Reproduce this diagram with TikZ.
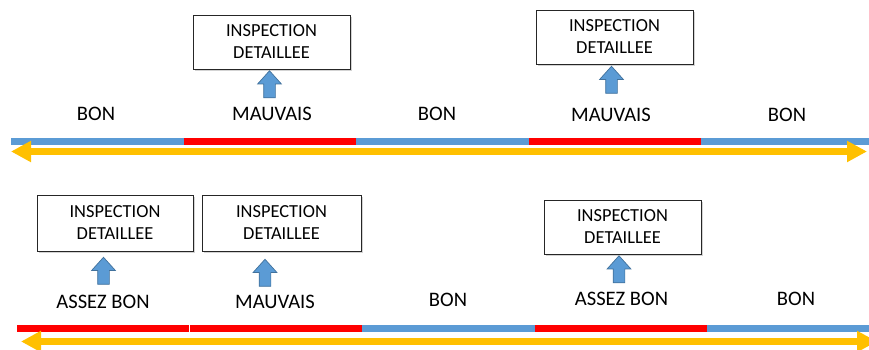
\documentclass[tikz,border=0pt]{standalone}
\usepackage{fontspec}
\setmainfont{Carlito}
\usetikzlibrary{arrows.meta,shapes.arrows,shadows}
\definecolor{barblue}{HTML}{5B9BD5}
\definecolor{barred}{HTML}{FF0000}
\definecolor{spanor}{HTML}{FFC000}
\definecolor{arrline}{HTML}{41719C}
\tikzset{
  inspbox/.style={draw=black!85, line width=0.8pt, fill=white, inner sep=0pt,
                  minimum width=157pt, minimum height=54pt, align=center,
                  font=\fontsize{18.4}{22}\selectfont,
                  drop shadow={shadow xshift=1.5pt, shadow yshift=-1.5pt, opacity=0.35}},
  statelbl/.style={inner sep=0pt, font=\fontsize{20.6}{24}\selectfont},
  uparr/.style={single arrow, shape border rotate=90, draw=arrline, line width=0.7pt,
                fill=barblue, inner sep=5.5pt, minimum width=23pt, minimum height=27pt,
                single arrow head extend=6pt, single arrow tip angle=84},
  bluebar/.style={line width=7pt, color=barblue},
  redbar/.style={line width=7pt, color=barred},
  spanarr/.style={{Triangle[length=20pt,width=20pt]}-{Triangle[length=20pt,width=20pt]},
                  line width=6.5pt, color=spanor}}

\begin{document}
\begin{tikzpicture}[x=1pt, y=-1pt]
    \path[use as bounding box, clip] (0,0) rectangle (869,349);
    % the first timeline
    \foreach \xa/\xb/\col in {11/184/bluebar, 184/356/redbar, 356/529/bluebar,
                              529/701/redbar, 701/869/bluebar}
      \draw[\col] (\xa,141) -- (\xb,141);
    \coordinate (sa) at (11,151.5);
    \coordinate (sb) at (867,151.5);
    \draw[spanarr] (sa) -- (sb);
    \node[statelbl] (ta) at (96,114) {BON};
    \node[statelbl] (tb) at (272,114) {MAUVAIS};
    \node[statelbl] (tc) at (437,114) {BON};
    \node[statelbl] (td) at (611,114.5) {MAUVAIS};
    \node[statelbl] (te) at (787,114.5) {BON};
    \node[inspbox] (ib) at (271.5,42) {INSPECTION\\DETAILLEE};
    \node[inspbox] (id) at (614.5,37) {INSPECTION\\DETAILLEE};
    \node[uparr] (ub) at (269.5,87.5) {};
    \node[uparr] (ud) at (611.5,83) {};
    % the second timeline
    \foreach \xa/\xb/\col in {17/189.4/redbar, 190/362/redbar, 362/535/bluebar,
                              535/707/redbar, 707/869/bluebar}
      \draw[\col] (\xa,328.5) -- (\xb,328.5);
    \coordinate (sc) at (21,341.5);
    \coordinate (sd) at (877,341.5);
    \draw[spanarr] (sc) -- (sd);
    \node[statelbl] (ba) at (103,302) {ASSEZ BON};
    \node[statelbl] (bb) at (275,302) {MAUVAIS};
    \node[statelbl] (bc) at (448,300) {BON};
    \node[statelbl] (bd) at (621.5,298.5) {ASSEZ BON};
    \node[statelbl] (be) at (796,299) {BON};
    \node[inspbox, minimum width=156pt, minimum height=56pt] (ja) at (115,223) {INSPECTION\\DETAILLEE};
    \node[inspbox, minimum width=159pt, minimum height=56pt] (jb) at (281.5,223) {INSPECTION\\DETAILLEE};
    \node[inspbox] (jd) at (622.5,227) {INSPECTION\\DETAILLEE};
    \node[uparr] (va) at (103.5,274) {};
    \node[uparr] (vb) at (265,276) {};
    \node[uparr] (vd) at (619,272.5) {};
  \end{tikzpicture}
\end{document}
